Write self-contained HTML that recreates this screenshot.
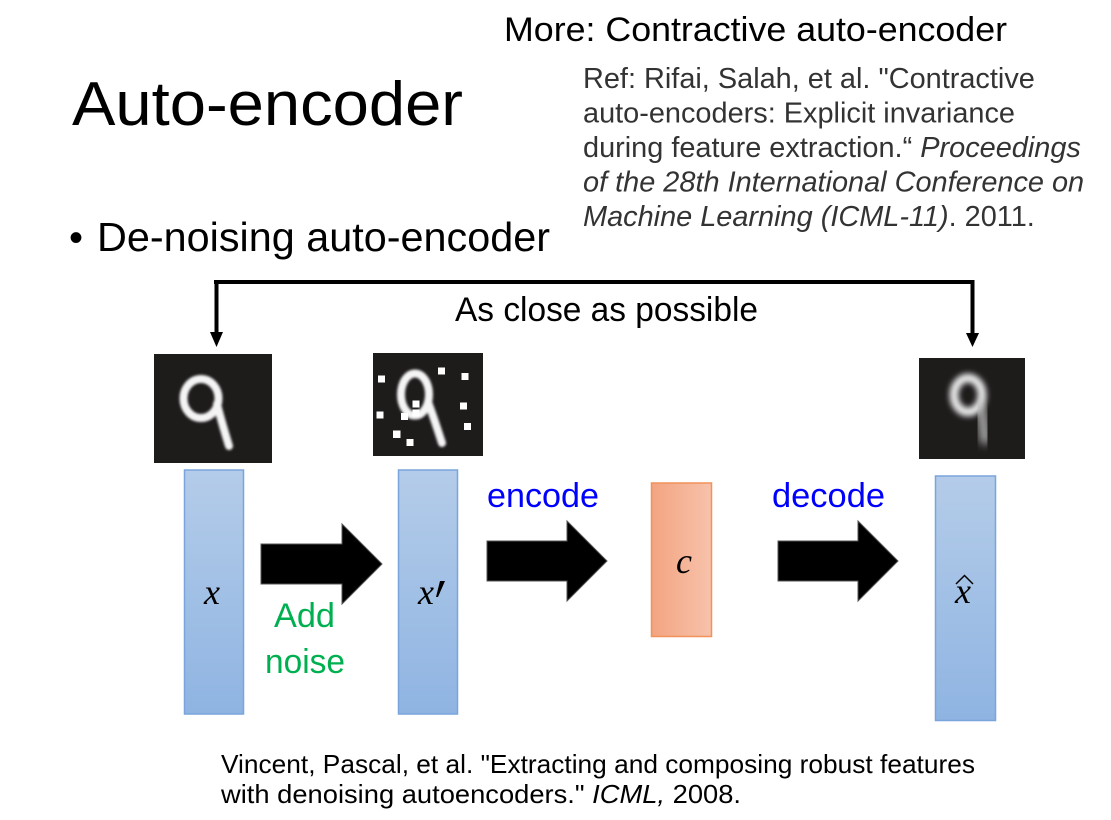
<!DOCTYPE html>
<html>
<head>
<meta charset="utf-8">
<style>
html,body{margin:0;padding:0;background:#fff;}
svg{display:block;}
</style>
</head>
<body>
<svg width="1111" height="820" viewBox="0 0 1111 820" xmlns="http://www.w3.org/2000/svg">
<defs>
<linearGradient id="gb" x1="0" y1="0" x2="0" y2="1">
<stop offset="0" stop-color="#b4cce9"/>
<stop offset="1" stop-color="#8fb4e2"/>
</linearGradient>
<linearGradient id="go" x1="0" y1="0" x2="1" y2="0">
<stop offset="0" stop-color="#f3a481"/>
<stop offset="1" stop-color="#f7c2ab"/>
</linearGradient>
<filter id="b1" x="-30%" y="-30%" width="160%" height="160%"><feGaussianBlur stdDeviation="1.4"/></filter>
<filter id="b3" x="-50%" y="-50%" width="200%" height="200%"><feGaussianBlur stdDeviation="3"/></filter>
<filter id="b4" x="-50%" y="-50%" width="200%" height="200%"><feGaussianBlur stdDeviation="4.5"/></filter>
</defs>

<rect width="1111" height="820" fill="#fff"/>

<!-- Titles -->
<text x="72" y="125" font-family="Liberation Sans, sans-serif" font-size="62" fill="#000" textLength="391" lengthAdjust="spacingAndGlyphs">Auto-encoder</text>
<text x="69" y="251" font-family="Liberation Sans, sans-serif" font-size="40" fill="#000">•</text>
<text x="97" y="251" font-family="Liberation Sans, sans-serif" font-size="41" fill="#000" textLength="453" lengthAdjust="spacingAndGlyphs">De-noising auto-encoder</text>

<text x="504" y="41" font-family="Liberation Sans, sans-serif" font-size="34" fill="#000" textLength="503" lengthAdjust="spacingAndGlyphs">More: Contractive auto-encoder</text>

<g font-family="Liberation Sans, Arial, sans-serif" font-size="28.9" fill="#333">
<text x="583" y="88">Ref: Rifai, Salah, et al. "Contractive</text>
<text x="583" y="122.5">auto-encoders: Explicit invariance</text>
<text x="583" y="157">during feature extraction.“ <tspan font-style="italic">Proceedings</tspan></text>
<text x="583" y="191.5" font-style="italic">of the 28th International Conference on</text>
<text x="583" y="226"><tspan font-style="italic">Machine Learning (ICML-11)</tspan>. 2011.</text>
</g>

<!-- Top connector -->
<line x1="214" y1="282" x2="974.5" y2="282" stroke="#000" stroke-width="4"/>
<line x1="216.5" y1="280" x2="216.5" y2="334" stroke="#000" stroke-width="4"/>
<polygon points="210,332 223,332 216.5,347" fill="#000"/>
<line x1="972.5" y1="280" x2="972.5" y2="335" stroke="#000" stroke-width="4"/>
<polygon points="966,333 979,333 972.5,347" fill="#000"/>
<text x="455" y="321" font-family="Liberation Sans, sans-serif" font-size="34" fill="#000" textLength="303" lengthAdjust="spacingAndGlyphs">As close as possible</text>

<!-- Image 1 -->
<rect x="154" y="354" width="118" height="109" fill="#1e1b1b"/>
<g filter="url(#b1)" stroke="#f4f4f4" fill="none" stroke-linecap="round">
<ellipse cx="201" cy="398.5" rx="17.5" ry="19.5" stroke-width="8"/>
<path d="M217 404 C221 420 225 433 229 446" stroke-width="8"/>
</g>

<!-- Image 2 -->
<rect x="373" y="353" width="110" height="103" fill="#1e1b1b"/>
<g filter="url(#b1)" stroke="#f4f4f4" fill="none" stroke-linecap="round">
<ellipse cx="415" cy="394.5" rx="14" ry="21" stroke-width="8"/>
<path d="M428 402 C434 418 438 431 442 443" stroke-width="8"/>
</g>
<g fill="#fff">
<rect x="378" y="375.5" width="7" height="7"/>
<rect x="438" y="367.5" width="7" height="7"/>
<rect x="461.5" y="373" width="7" height="7"/>
<rect x="412.5" y="400.5" width="7" height="7"/>
<rect x="460" y="402.5" width="7" height="7"/>
<rect x="376.5" y="411.5" width="7" height="7"/>
<rect x="401" y="413" width="7" height="7"/>
<rect x="412.5" y="409.5" width="7" height="7"/>
<rect x="464" y="423" width="7" height="7"/>
<rect x="393" y="430.5" width="7.5" height="7.5"/>
<rect x="406.5" y="439" width="7" height="7"/>
</g>

<!-- Image 3 -->
<rect x="919" y="358" width="106" height="101" fill="#1e1b1b"/>
<g fill="none" stroke-linecap="round">
<ellipse cx="968" cy="395" rx="14" ry="17" stroke="#e8e8e8" stroke-width="9" filter="url(#b3)"/>
<path d="M980 405 C983 418 984 428 985 440" stroke="#bbbbbb" stroke-width="9" filter="url(#b4)"/>
</g>

<!-- Bars -->
<rect x="184.5" y="470" width="59" height="244" fill="url(#gb)" stroke="#79a5dc" stroke-width="1.5"/>
<rect x="398.5" y="470" width="59" height="244" fill="url(#gb)" stroke="#79a5dc" stroke-width="1.5"/>
<rect x="651.5" y="483" width="60" height="153.5" fill="url(#go)" stroke="#f0925a" stroke-width="1.5"/>
<rect x="935.5" y="476" width="60" height="244.5" fill="url(#gb)" stroke="#79a5dc" stroke-width="1.5"/>

<!-- Variables -->
<g font-family="Liberation Serif, serif" font-style="italic" font-size="36" fill="#000">
<text x="204" y="604">x</text>
<text x="418" y="604">x</text>
<text x="676" y="573">c</text>
<text x="955" y="603">x</text>
</g>
<polygon points="440,581 445,581 438,597 436,597" fill="#000"/>
<polyline points="956,584 964.5,575.5 973,584" fill="none" stroke="#000" stroke-width="1.5"/>

<!-- Arrows -->
<polygon points="261,544 342,544 342,524 382,564 342,604 342,584 261,584" fill="#000" stroke="#555" stroke-width="1"/>
<polygon points="487,541 567,541 567,521 607,561 567,601 567,581 487,581" fill="#000" stroke="#555" stroke-width="1"/>
<polygon points="778,541 858,541 858,521 898,561 858,601 858,581 778,581" fill="#000" stroke="#555" stroke-width="1"/>

<!-- Arrow labels -->
<g font-family="Liberation Sans, sans-serif" font-size="34">
<text x="487" y="507" fill="#0000ff" textLength="112" lengthAdjust="spacingAndGlyphs">encode</text>
<text x="772" y="507" fill="#0000ff" textLength="113" lengthAdjust="spacingAndGlyphs">decode</text>
<text x="274" y="627" fill="#00b050" textLength="61" lengthAdjust="spacingAndGlyphs">Add</text>
<text x="265" y="673" fill="#00b050" textLength="80" lengthAdjust="spacingAndGlyphs">noise</text>
</g>

<!-- Bottom reference -->
<g font-family="Liberation Sans, sans-serif" font-size="26" fill="#000">
<text x="221" y="773" textLength="754" lengthAdjust="spacingAndGlyphs">Vincent, Pascal, et al. "Extracting and composing robust features</text>
<text x="221" y="803" textLength="520" lengthAdjust="spacingAndGlyphs">with denoising autoencoders." <tspan font-style="italic">ICML,</tspan> 2008.</text>
</g>
</svg>
</body>
</html>
